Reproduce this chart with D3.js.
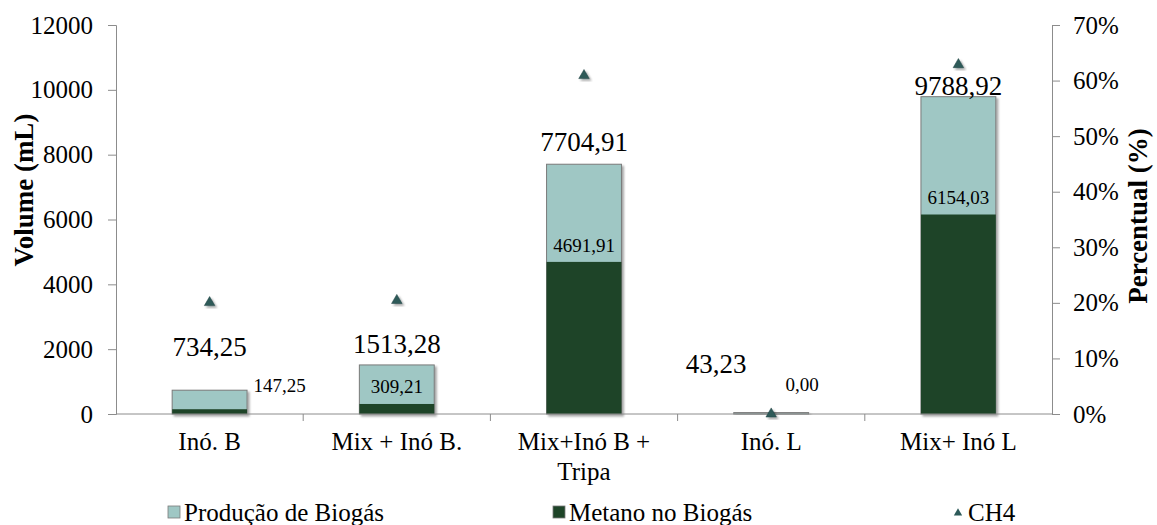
<!DOCTYPE html>
<html>
<head>
<meta charset="utf-8">
<script src="https://cdn.jsdelivr.net/npm/d3@7"></script>
<style>
  html, body { margin: 0; padding: 0; background: #fff; }
</style>
</head>
<body>
<svg id="chart" width="1157" height="525"></svg>
<script>
// Categories and series
const categories = ["Inó. B", "Mix + Inó B.", "Mix+Inó B + Tripa", "Inó. L", "Mix+ Inó L"];
const categoryLines = [["Inó. B"], ["Mix + Inó B."], ["Mix+Inó B +", "Tripa"], ["Inó. L"], ["Mix+ Inó L"]];
const biogas = [734.25, 1513.28, 7704.91, 43.23, 9788.92];
const methane = [147.25, 309.21, 4691.91, 0.00, 6154.03];
const ch4Percent = [0.2005, 0.2043, 0.6090, 0.0, 0.6287];
const volumeTicks = [0, 2000, 4000, 6000, 8000, 10000, 12000];
const percentTicks = [0, 0.1, 0.2, 0.3, 0.4, 0.5, 0.6, 0.7];

// Label placement tweaks (pixels)
const totalLabelDx = [0, 0, 0, -55, 0];
const totalLabelLift = [34, 12, 13, 40, 2];
const methLabelDx = [70, 0, 0, 31, 0];
const methLabelLift = [17, 11, 10, 23, 11];

const FONT = "Liberation Serif";
const fmt = v => v.toFixed(2).replace(".", ",");

const svg = d3.select("#chart");
const plotLeft = 116, plotRight = 1052, plotTop = 25, plotBottom = 414;

const x = d3.scaleBand().domain(categories).range([plotLeft, plotRight]).padding(0);
const y = d3.scaleLinear().domain([0, 12000]).range([plotBottom, plotTop]);
const y2 = d3.scaleLinear().domain([0, 0.7]).range([plotBottom, plotTop]);
const barW = x.bandwidth() * 0.4;

const defs = svg.append("defs");
const sh = defs.append("filter").attr("id", "shadow").attr("x", "-30%").attr("y", "-30%").attr("width", "160%").attr("height", "160%");
sh.append("feDropShadow").attr("dx", 2).attr("dy", 2).attr("stdDeviation", 1.2).attr("flood-color", "#000").attr("flood-opacity", 0.35);

const axisColor = "#8c8c8c";

// Left axis
const yAxis = svg.append("g").attr("transform", `translate(${plotLeft},0)`)
  .call(d3.axisLeft(y).tickValues(volumeTicks).tickSize(8).tickPadding(15).tickFormat(d3.format("d")));
yAxis.attr("font-family", FONT).attr("font-size", 25);
yAxis.select(".domain").attr("stroke", axisColor);
yAxis.selectAll(".tick line").attr("stroke", axisColor);
yAxis.selectAll("text").attr("fill", "#000");

// Right axis
const y2Axis = svg.append("g").attr("transform", `translate(${plotRight},0)`)
  .call(d3.axisRight(y2).tickValues(percentTicks).tickSize(8).tickPadding(13).tickFormat(d3.format(".0%")));
y2Axis.attr("font-family", FONT).attr("font-size", 25);
y2Axis.select(".domain").attr("stroke", axisColor);
y2Axis.selectAll(".tick line").attr("stroke", axisColor);
y2Axis.selectAll("text").attr("fill", "#000");

// Production bars (behind)
svg.append("g").selectAll("rect").data(categories).join("rect")
  .attr("x", d => x(d) + x.bandwidth() / 2 - barW / 2)
  .attr("y", (d, i) => y(biogas[i]))
  .attr("width", barW)
  .attr("height", (d, i) => y(0) - y(biogas[i]))
  .attr("fill", "#9fc7c4")
  .attr("stroke", "#7a7a7a")
  .attr("stroke-width", 1)
  .attr("filter", "url(#shadow)");

// Methane bars (front)
svg.append("g").selectAll("rect").data(categories).join("rect")
  .attr("x", d => x(d) + x.bandwidth() / 2 - barW / 2)
  .attr("y", (d, i) => y(methane[i]))
  .attr("width", barW)
  .attr("height", (d, i) => y(0) - y(methane[i]))
  .attr("fill", "#1e4428");

// X axis with category separators
const xAxisG = svg.append("g").attr("transform", `translate(0,${plotBottom})`);
xAxisG.append("line").attr("x1", plotLeft).attr("x2", plotRight).attr("stroke", axisColor);
xAxisG.selectAll("line.sep").data(d3.range(1, categories.length)).join("line")
  .attr("class", "sep")
  .attr("x1", i => plotLeft + i * x.bandwidth()).attr("x2", i => plotLeft + i * x.bandwidth())
  .attr("y1", 0).attr("y2", 7).attr("stroke", axisColor);

// Category labels
categories.forEach((c, i) => {
  const t = svg.append("text").attr("text-anchor", "middle")
    .attr("font-family", FONT).attr("font-size", 25)
    .attr("x", x(c) + x.bandwidth() / 2).attr("y", 450);
  categoryLines[i].forEach((ln, j) => {
    t.append("tspan").attr("x", x(c) + x.bandwidth() / 2).attr("dy", j === 0 ? 0 : 30).text(ln);
  });
});

// CH4 markers
const tri = d3.symbol().type(d3.symbolTriangle).size(48);
svg.append("g").selectAll("path").data(categories).join("path")
  .attr("d", tri)
  .attr("transform", (d, i) => `translate(${x(d) + x.bandwidth() / 2},${y2(ch4Percent[i])})`)
  .attr("fill", "#2d5a59")
  .attr("stroke", "#1f4140").attr("stroke-width", 0.5)
  .attr("filter", "url(#shadow)");

// Total biogas labels
svg.append("g").attr("font-family", FONT).attr("font-size", 27)
  .selectAll("text").data(categories).join("text")
  .attr("text-anchor", "middle")
  .attr("x", (d, i) => x(d) + x.bandwidth() / 2 + totalLabelDx[i])
  .attr("y", (d, i) => y(biogas[i]) - totalLabelLift[i])
  .text((d, i) => fmt(biogas[i]));

// Methane labels
svg.append("g").attr("font-family", FONT).attr("font-size", 19)
  .selectAll("text").data(categories).join("text")
  .attr("text-anchor", "middle")
  .attr("x", (d, i) => x(d) + x.bandwidth() / 2 + methLabelDx[i])
  .attr("y", (d, i) => y(methane[i]) - methLabelLift[i])
  .text((d, i) => fmt(methane[i]));

// Axis titles
svg.append("text").attr("transform", `translate(33,190) rotate(-90)`)
  .attr("text-anchor", "middle").attr("font-family", FONT).attr("font-size", 27).attr("font-weight", "bold")
  .text("Volume (mL)");
svg.append("text").attr("transform", `translate(1147,216) rotate(-90)`)
  .attr("text-anchor", "middle").attr("font-family", FONT).attr("font-size", 27).attr("font-weight", "bold")
  .text("Percentual (%)");

// Legend
const legend = svg.append("g").attr("font-family", FONT).attr("font-size", 25);
const legendItems = [
  { label: "Produção de Biogás", x: 168, kind: "rect", fill: "#9fc7c4" },
  { label: "Metano no Biogás", x: 553, kind: "rect", fill: "#1e4428" },
  { label: "CH4", x: 952, kind: "tri", fill: "#2d5a59" }
];
legendItems.forEach(it => {
  if (it.kind === "rect") {
    legend.append("rect").attr("x", it.x).attr("y", 506).attr("width", 12).attr("height", 12)
      .attr("fill", it.fill).attr("stroke", "#7a7a7a").attr("stroke-width", 0.8);
  } else {
    legend.append("path").attr("d", d3.symbol().type(d3.symbolTriangle).size(30))
      .attr("transform", `translate(${it.x + 6},${513})`).attr("fill", it.fill);
  }
  legend.append("text").attr("x", it.x + 16).attr("y", 521).text(it.label);
});
</script>
</body>
</html>
